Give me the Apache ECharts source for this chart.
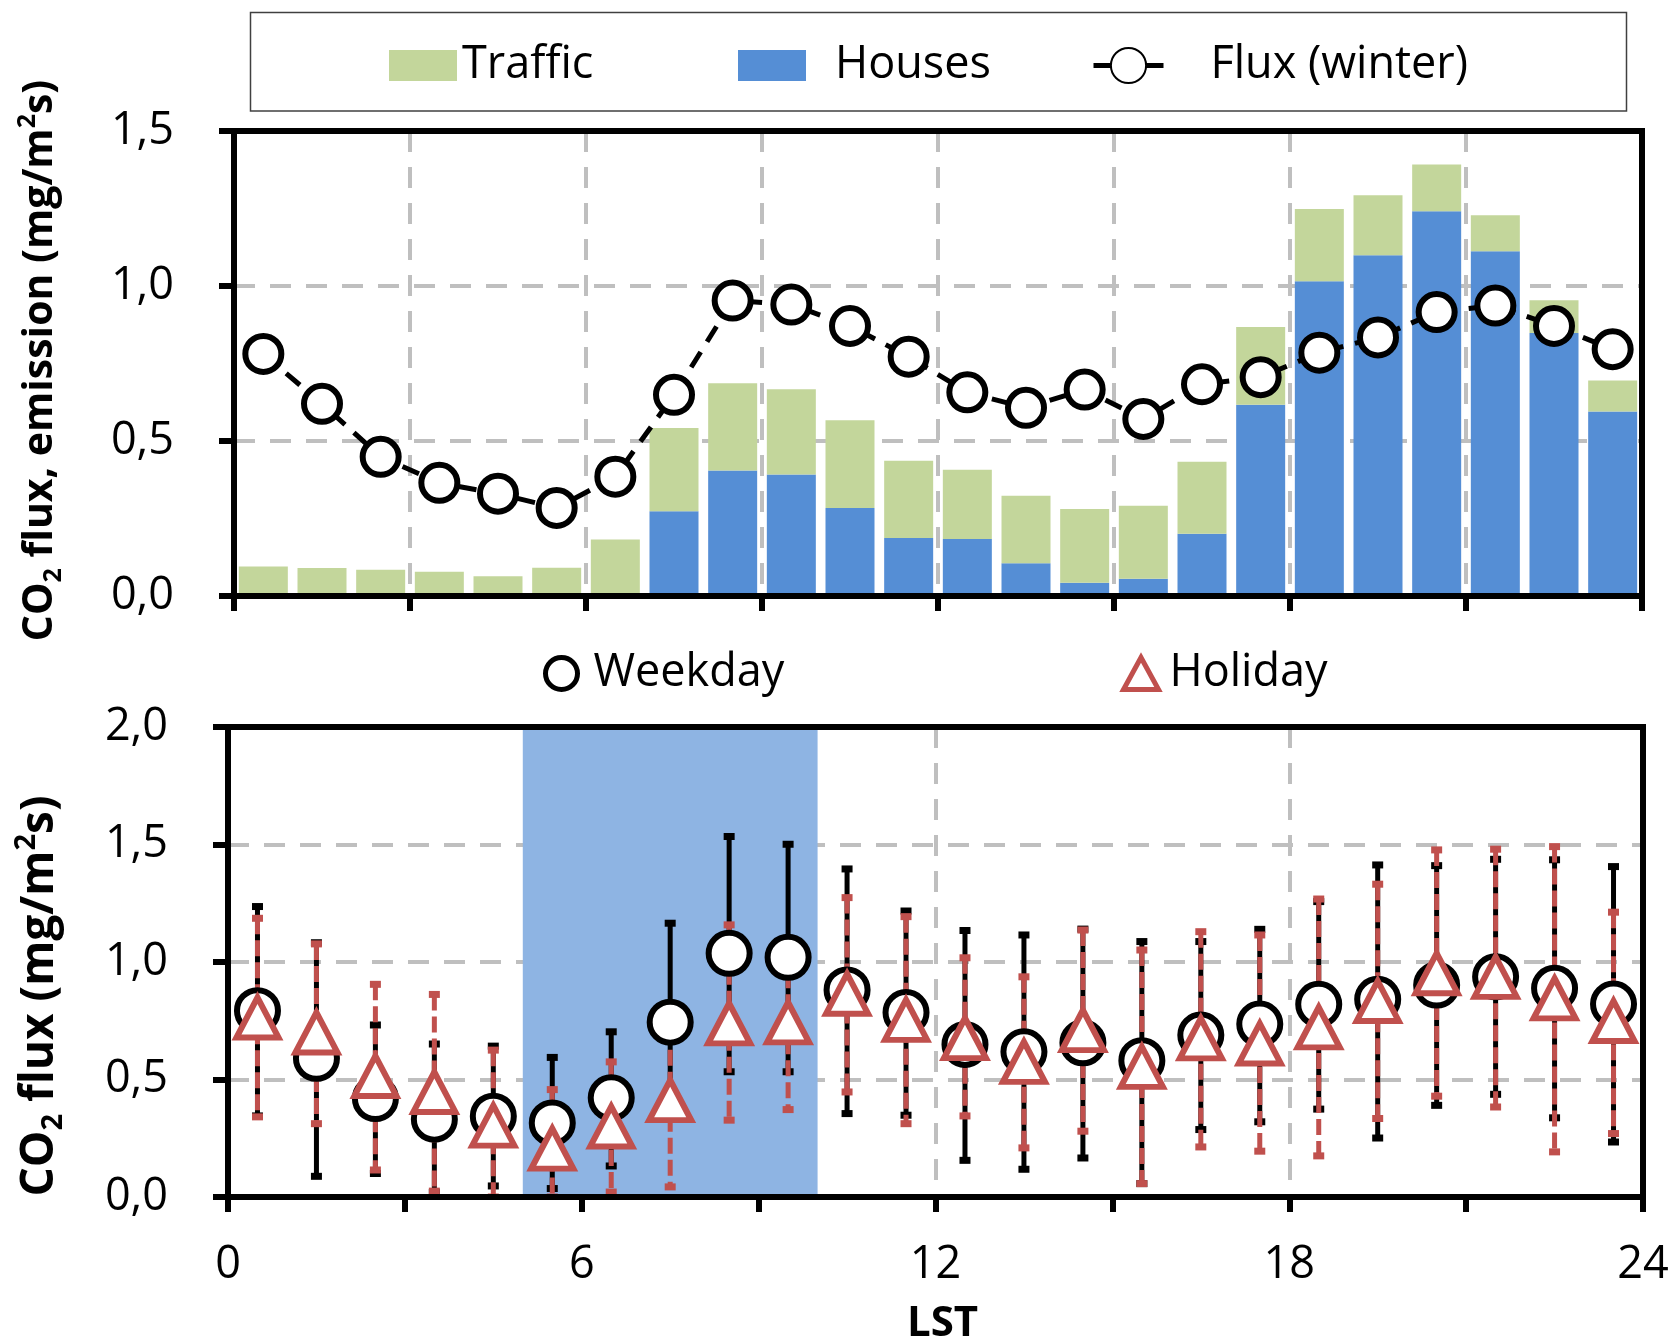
<!DOCTYPE html>
<html>
<head>
<meta charset="utf-8">
<title>CO2 flux and emission</title>
<script src="https://cdn.jsdelivr.net/npm/echarts@6/dist/echarts.min.js"></script>
<style>
html, body { margin: 0; padding: 0; background: #fff; }
#div_chart { width: 1671px; height: 1341px; }
</style>
</head>
<body>
<div id="div_chart"></div>
<script>
// hour of day (LST), centre of each hourly bin
var hours = [0.5, 1.5, 2.5, 3.5, 4.5, 5.5, 6.5, 7.5, 8.5, 9.5, 10.5, 11.5,
    12.5, 13.5, 14.5, 15.5, 16.5, 17.5, 18.5, 19.5, 20.5, 21.5, 22.5, 23.5];

// top panel: emissions (stacked) and winter flux
var houses = [0, 0, 0, 0, 0, 0, 0, 0.273, 0.405, 0.392, 0.284, 0.187,
    0.184, 0.106, 0.043, 0.056, 0.201, 0.617, 1.015, 1.099, 1.241, 1.112, 0.848, 0.595];
var traffic = [0.095, 0.090, 0.085, 0.078, 0.064, 0.091, 0.182, 0.269, 0.281, 0.275, 0.283, 0.249,
    0.223, 0.217, 0.238, 0.235, 0.232, 0.251, 0.233, 0.194, 0.151, 0.116, 0.106, 0.100];
var fluxWinter = [0.781, 0.620, 0.449, 0.365, 0.330, 0.284, 0.385, 0.649, 0.953, 0.940, 0.871, 0.772,
    0.657, 0.607, 0.666, 0.571, 0.683, 0.706, 0.785, 0.834, 0.916, 0.937, 0.871, 0.796];

// bottom panel: weekday / holiday flux with error bars
var weekdayMean = [0.793, 0.590, 0.419, 0.331, 0.344, 0.315, 0.422, 0.744, 1.037, 1.020, 0.881, 0.785,
    0.649, 0.618, 0.656, 0.580, 0.689, 0.736, 0.820, 0.841, 0.902, 0.937, 0.888, 0.821];
var weekdayLow = [0.345, 0.088, 0.100, 0.020, 0.047, 0.036, 0.132, 0.360, 0.533, 0.533, 0.355, 0.348,
    0.156, 0.118, 0.166, 0.057, 0.287, 0.320, 0.374, 0.251, 0.390, 0.437, 0.337, 0.234];
var weekdayHigh = [1.236, 1.082, 0.732, 0.651, 0.642, 0.594, 0.703, 1.165, 1.534, 1.501, 1.396, 1.217,
    1.134, 1.115, 1.140, 1.087, 1.087, 1.139, 1.257, 1.413, 1.410, 1.437, 1.435, 1.406];
var holidayMean = [0.764, 0.700, 0.515, 0.447, 0.304, 0.206, 0.300, 0.412, 0.739, 0.743, 0.865, 0.754,
    0.676, 0.575, 0.710, 0.554, 0.675, 0.653, 0.722, 0.834, 0.952, 0.937, 0.845, 0.749];
var holidayLow = [0.341, 0.312, 0.115, 0.025, 0.000, 0.000, 0.021, 0.043, 0.327, 0.372, 0.447, 0.312,
    0.345, 0.209, 0.280, 0.057, 0.213, 0.195, 0.175, 0.334, 0.429, 0.383, 0.192, 0.270];
var holidayHigh = [1.186, 1.077, 0.905, 0.862, 0.625, 0.457, 0.575, 0.720, 1.158, 1.050, 1.274, 1.193,
    1.018, 0.937, 1.136, 1.051, 1.129, 1.115, 1.268, 1.331, 1.477, 1.480, 1.491, 1.212];

// shaded morning period (LST)
var shadedHours = [5, 10];

var appFluxChart = {
    chart: null,
    FONT: 'Open Sans',
    RED: '#C0504D',
    GRID_GRAY: '#BFBFBF',
    init: function init() {
        var that = this;
        that.chart = echarts.init(document.getElementById('div_chart'));
        that.chart.setOption(that.getOption());
    },
    //把x和y合成点
    pairs: function pairs(ys) {
        var out = [];
        for (var i = 0; i < hours.length; i++) {
            out.push([hours[i], ys[i]]);
        }
        return out;
    },
    ranges: function ranges(lo, hi) {
        var out = [];
        for (var i = 0; i < hours.length; i++) {
            out.push([hours[i], lo[i], hi[i]]);
        }
        return out;
    },
    comma: function comma(v) {
        return v.toFixed(1).replace('.', ',');
    },
    //误差线
    errorBar: function errorBar(color, dashed) {
        return function (params, api) {
            var x = api.value(0);
            var lo = api.coord([x, api.value(1)]);
            var hi = api.coord([x, api.value(2)]);
            var cap = 5.5;
            var capStyle = { stroke: color, lineWidth: 7 };
            return {
                type: 'group',
                children: [{
                    type: 'line',
                    shape: { x1: hi[0], y1: hi[1], x2: lo[0], y2: lo[1] },
                    style: { stroke: color, lineWidth: 5, lineDash: dashed ? [16, 6] : null }
                }, {
                    type: 'line',
                    shape: { x1: hi[0] - cap, y1: hi[1], x2: hi[0] + cap, y2: hi[1] },
                    style: capStyle
                }, {
                    type: 'line',
                    shape: { x1: lo[0] - cap, y1: lo[1], x2: lo[0] + cap, y2: lo[1] },
                    style: capStyle
                }]
            };
        };
    },
    axisName: function axisName(text) {
        return '{b|CO}{s|2}{b|' + text + '(mg/m}{p|2}{b|s)}';
    },
    nameRich: function nameRich(size) {
        var f = this.FONT;
        var small = Math.round(size * 0.62);
        return {
            b: { fontFamily: f, fontWeight: 'bold', fontSize: size, lineHeight: size + 10, color: '#000' },
            s: { fontFamily: f, fontWeight: 'bold', fontSize: small, lineHeight: small, verticalAlign: 'bottom', color: '#000' },
            p: { fontFamily: f, fontWeight: 'bold', fontSize: small, lineHeight: small, verticalAlign: 'top', color: '#000' }
        };
    },
    //只画框线的轴
    frameAxis: function frameAxis(gridIndex, position, max) {
        return {
            type: 'value', gridIndex: gridIndex, position: position, min: 0, max: max, z: 10,
            axisLine: { show: true, onZero: false, lineStyle: { color: '#000', width: 6, cap: 'square' } },
            axisTick: { show: false }, axisLabel: { show: false }, splitLine: { show: false }
        };
    },
    gridAxis: function gridAxis(gridIndex, max, interval) {
        var that = this;
        return {
            type: 'value', gridIndex: gridIndex, min: 0, max: max, interval: interval, z: 0,
            axisLine: { show: false, onZero: false }, axisTick: { show: false }, axisLabel: { show: false },
            splitLine: { show: true, lineStyle: { color: that.GRID_GRAY, width: 4, type: [21, 15] } }
        };
    },
    getOption: function getOption() {
        var that = this;
        var f = that.FONT;
        var legendText = { fontFamily: f, fontSize: 45, color: '#000' };
        var tickLine = { color: '#000', width: 6 };
        var axisLine = { show: true, onZero: false, lineStyle: { color: '#000', width: 6, cap: 'square' } };
        var withPad = function (left) {
            return echarts.util.extend({ padding: [0, 0, 0, left] }, legendText);
        };

        var option = {
            animation: false,
            backgroundColor: '#fff',
            textStyle: { fontFamily: f },
            grid: [
                { left: 234, top: 131, width: 1408, height: 465, outerBoundsMode: 'none' },
                { left: 228, top: 727, width: 1415, height: 470, outerBoundsMode: 'none' }
            ],
            graphic: [{
                type: 'rect',
                shape: { x: 250.5, y: 12.5, width: 1376, height: 98.5 },
                style: { fill: 'none', stroke: '#404040', lineWidth: 1.5 }
            }],
            legend: [
                { data: ['Traffic'], left: 389, top: 43, padding: 0, icon: 'rect', itemWidth: 68, itemHeight: 31,
                    selectedMode: false, textStyle: withPad(0) },
                { data: ['Houses'], left: 738, top: 43, padding: 0, icon: 'rect', itemWidth: 68, itemHeight: 31,
                    selectedMode: false, textStyle: withPad(24) },
                { data: ['Flux (winter)'], left: 1091, top: 43, padding: 0, itemWidth: 70, itemHeight: 44,
                    selectedMode: false, lineStyle: { type: 'solid', width: 5 }, textStyle: withPad(42) },
                { data: ['Weekday'], left: 543, top: 651, padding: 0, itemWidth: 32, itemHeight: 32,
                    selectedMode: false, itemStyle: { borderWidth: 5 }, textStyle: withPad(11) },
                { data: ['Holiday'], left: 1121, top: 651, padding: 0, itemWidth: 35, itemHeight: 32,
                    selectedMode: false, itemStyle: { borderWidth: 5 }, textStyle: withPad(6) }
            ],
            xAxis: [
                // 0: top panel, ticks + bottom line
                { type: 'value', gridIndex: 0, min: 0, max: 24, interval: 3, z: 10, position: 'bottom',
                    axisLine: axisLine, axisTick: { show: true, inside: false, length: 15, lineStyle: tickLine },
                    axisLabel: { show: false }, splitLine: { show: false } },
                // 1: top panel vertical grid
                that.gridAxis(0, 24, 3),
                // 2: top panel frame
                that.frameAxis(0, 'top', 24),
                // 3: bottom panel, ticks + labels
                { type: 'value', gridIndex: 1, min: 0, max: 24, interval: 3, z: 10, position: 'bottom',
                    axisLine: axisLine, axisTick: { show: true, inside: false, length: 15, lineStyle: tickLine },
                    axisLabel: { show: true, margin: 46, fontFamily: f, fontSize: 45, color: '#000',
                        formatter: function (v) { return v % 6 === 0 ? String(v) : ''; } },
                    splitLine: { show: false },
                    name: 'LST', nameLocation: 'middle', nameGap: 106,
                    nameTextStyle: { fontFamily: f, fontWeight: 'bold', fontSize: 42, color: '#000', padding: [0, 0, 0, 14] } },
                // 4: bottom panel vertical grid
                that.gridAxis(1, 24, 6),
                // 5: bottom panel frame
                that.frameAxis(1, 'top', 24),
                // 6: top panel hourly categories for the stacked bars
                { type: 'category', gridIndex: 0, data: hours, boundaryGap: true, position: 'bottom',
                    axisLine: { show: false }, axisTick: { show: false }, axisLabel: { show: false }, splitLine: { show: false } }
            ],
            yAxis: [
                // 0: top panel
                { type: 'value', gridIndex: 0, min: 0, max: 1.5, interval: 0.5, z: 10, position: 'left',
                    axisLine: axisLine, axisTick: { show: true, inside: false, length: 15, lineStyle: tickLine },
                    axisLabel: { show: true, margin: 60, color: '#000', fontFamily: f, fontSize: 45,
                        formatter: function (v) { return that.comma(v); } },
                    splitLine: { show: false },
                    name: that.axisName(' flux, emission '), nameLocation: 'middle', nameGap: 168,
                    nameTextStyle: { rich: that.nameRich(41), padding: [0, 0, 0, 6] } },
                that.gridAxis(0, 1.5, 0.5),
                that.frameAxis(0, 'right', 1.5),
                // 3: bottom panel
                { type: 'value', gridIndex: 1, min: 0, max: 2, interval: 0.5, z: 10, position: 'left',
                    axisLine: axisLine, axisTick: { show: true, inside: false, length: 15, lineStyle: tickLine },
                    axisLabel: { show: true, margin: 60, color: '#000', fontFamily: f, fontSize: 45,
                        formatter: function (v) { return that.comma(v); } },
                    splitLine: { show: false },
                    name: that.axisName(' flux '), nameLocation: 'middle', nameGap: 160,
                    nameTextStyle: { rich: that.nameRich(46), padding: [0, 68, 0, 0] } },
                that.gridAxis(1, 2, 0.5),
                that.frameAxis(1, 'right', 2)
            ],
            series: [{
                name: 'Houses', type: 'bar', stack: 'emission', xAxisIndex: 6, yAxisIndex: 0,
                barWidth: 49, itemStyle: { color: '#558ED5' }, z: 2,
                data: houses
            }, {
                name: 'Traffic', type: 'bar', stack: 'emission', xAxisIndex: 6, yAxisIndex: 0,
                barWidth: 49, itemStyle: { color: '#C3D69B' }, z: 2,
                data: traffic
            }, {
                name: 'Flux (winter)', type: 'line', xAxisIndex: 0, yAxisIndex: 0,
                symbol: 'circle', symbolSize: 36, z: 5,
                itemStyle: { color: '#fff', borderColor: '#000', borderWidth: 6 },
                lineStyle: { color: '#000', width: 5, type: [18, 12] },
                data: that.pairs(fluxWinter)
            }, {
                // 阴影时段
                name: 'band', type: 'scatter', xAxisIndex: 3, yAxisIndex: 3, z: 1, data: [],
                markArea: {
                    silent: true,
                    itemStyle: { color: '#8EB4E3' },
                    data: [[{ xAxis: shadedHours[0] }, { xAxis: shadedHours[1] }]]
                }
            }, {
                name: 'Weekday range', type: 'custom', xAxisIndex: 3, yAxisIndex: 3, z: 3, clip: true,
                renderItem: that.errorBar('#000', false),
                encode: { x: 0, y: [1, 2] },
                data: that.ranges(weekdayLow, weekdayHigh)
            }, {
                name: 'Holiday range', type: 'custom', xAxisIndex: 3, yAxisIndex: 3, z: 4, clip: true,
                renderItem: that.errorBar(that.RED, true),
                encode: { x: 0, y: [1, 2] },
                data: that.ranges(holidayLow, holidayHigh)
            }, {
                name: 'Weekday', type: 'scatter', xAxisIndex: 3, yAxisIndex: 3, z: 5,
                symbol: 'circle', symbolSize: 41,
                itemStyle: { color: '#fff', borderColor: '#000', borderWidth: 6, opacity: 1 },
                data: that.pairs(weekdayMean)
            }, {
                name: 'Holiday', type: 'scatter', xAxisIndex: 3, yAxisIndex: 3, z: 6,
                symbol: 'triangle', symbolSize: [42, 40],
                itemStyle: { color: '#fff', borderColor: that.RED, borderWidth: 6, opacity: 1 },
                data: that.pairs(holidayMean)
            }]
        };
        return option;
    }
};

window.onload = function () {
    appFluxChart.init();
};
</script>
</body>
</html>
